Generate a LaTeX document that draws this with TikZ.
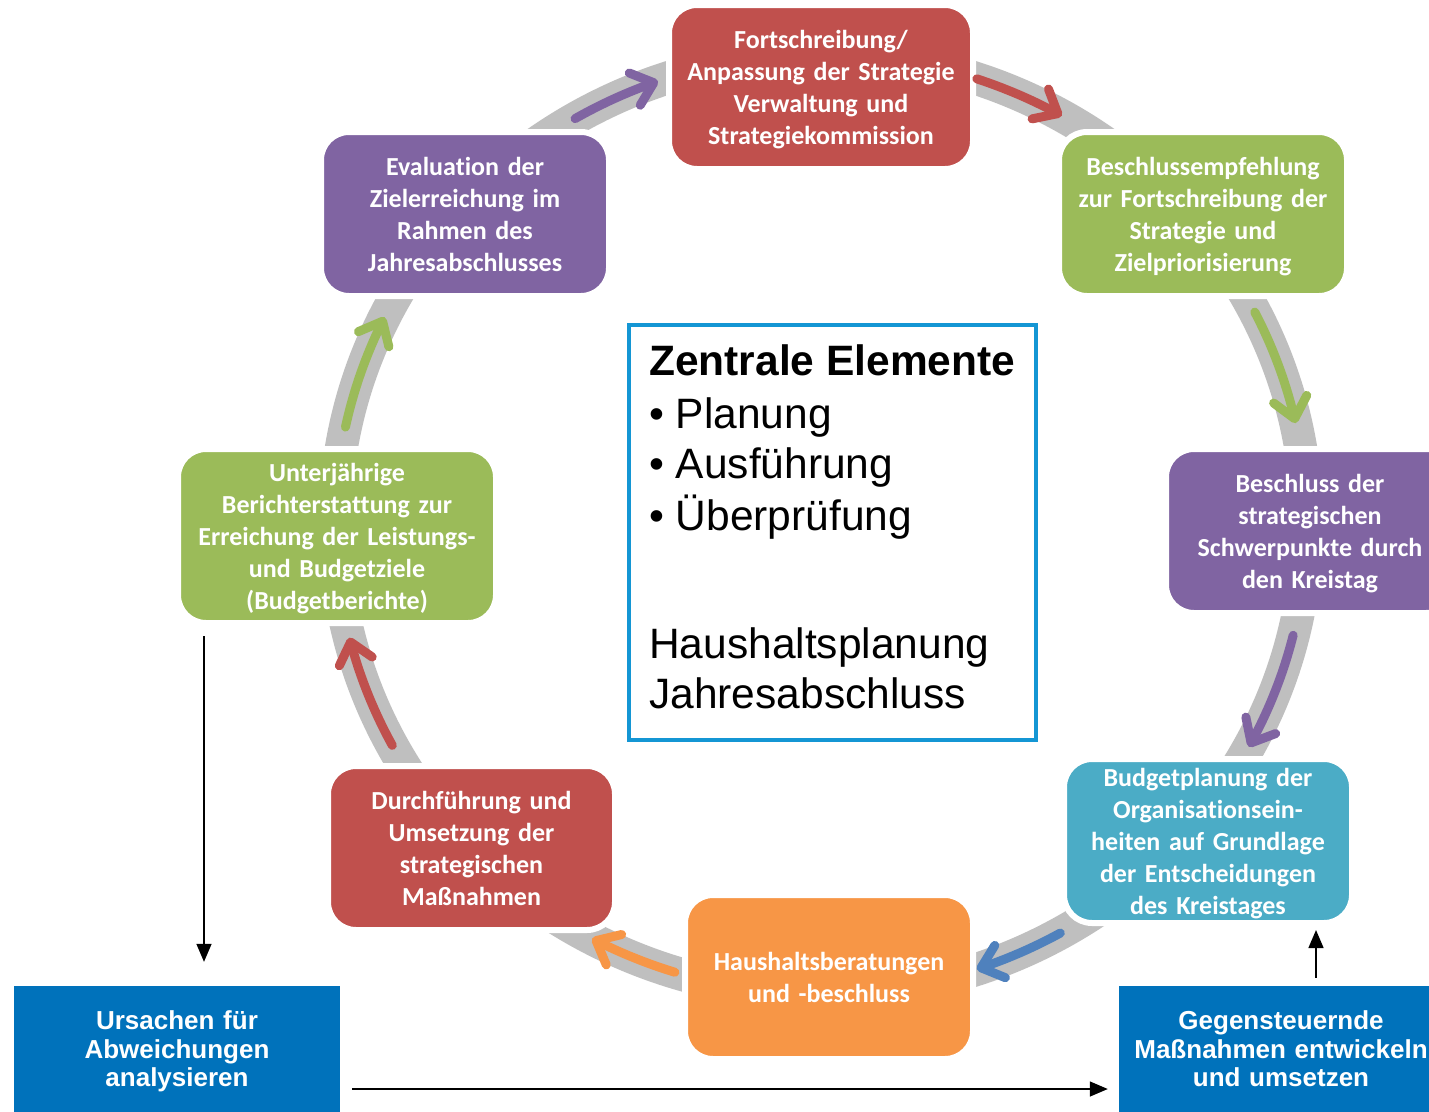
\documentclass[tikz,border=0pt]{standalone}
\usepackage{fontspec}
\newfontfamily\carlito[Ligatures=NoCommon]{Carlito}
\newfontfamily\arialfont{Liberation Sans}
\usetikzlibrary{arrows.meta}
\definecolor{cred}{HTML}{C0504D}
\definecolor{cgreen}{HTML}{9BBB59}
\definecolor{cpurple}{HTML}{8064A2}
\definecolor{cteal}{HTML}{4BACC6}
\definecolor{corange}{HTML}{F79646}
\definecolor{cblue}{HTML}{4F81BD}
\definecolor{cgray}{HTML}{BFBFBF}
\definecolor{cframe}{RGB}{20,150,212}
\definecolor{cbox}{RGB}{0,114,187}
\begin{document}
\begin{tikzpicture}[x=1pt,y=-1pt,
  cyc/.style={draw=white, line width=6pt, rounded corners=28pt, inner sep=0pt,
    align=center, text=white, minimum height=164pt,
    font=\carlito\bfseries\fontsize{26}{32}\selectfont,
    execute at begin node={\rule{0pt}{26pt}},
    execute at end node={\rule[-7pt]{0pt}{0pt}}},
  carrow/.style={line width=9pt, line cap=round,
    -{Straight Barb[length=20pt,width=34pt,round]}},
  blk/.style={draw=black, line width=1.5pt, -{Triangle[length=18pt,width=15pt]}},
  ctext/.style={inner sep=0pt, anchor=base west, font=\arialfont\fontsize{42.5}{50}\selectfont},
  bluebox/.style={fill=cbox, inner sep=0pt, align=center, text=white,
    minimum height=126pt, font=\arialfont\bfseries\fontsize{26}{28.5}\selectfont,
    execute at begin node={\rule{0pt}{25pt}},
    execute at end node={\rule[-7pt]{0pt}{0pt}}}
]
\useasboundingbox (0,0) rectangle (1429,1111);
\clip (0,0) rectangle (1429,1111);
\fill[white] (0,0) rectangle (1429,1111);

% grey ring
\draw[cgray, line width=33pt] (821,524) ellipse [x radius=486pt, y radius=470pt];

% cycle boxes
\node[cyc, fill=cred, minimum width=304pt, text width=298pt] (rt) at (821,87)
  {Fortschreibung/\\Anpassung der Strategie\\Verwaltung und\\Strategiekommission};
\node[cyc, fill=cgreen, minimum width=288pt, text width=282pt] (gtr) at (1203,214)
  {Beschlussempfehlung\\zur Fortschreibung der\\Strategie und\\Zielpriorisierung};
\node[cyc, fill=cpurple, minimum width=288pt, text width=282pt] (pr) at (1310,531)
  {Beschluss der\\strategischen\\Schwerpunkte durch\\den Kreistag};
\node[cyc, fill=cteal, minimum width=288pt, text width=282pt] (tl) at (1208,841)
  {Budgetplanung der\\Organisationsein-\\heiten auf Grundlage\\der Entscheidungen\\des Kreistages};
\node[cyc, fill=corange, minimum width=288pt, text width=282pt] (or) at (829,977)
  {Haushaltsberatungen\\und -beschluss};
\node[cyc, fill=cred, minimum width=287pt, text width=281pt] (rbl) at (471.5,848)
  {Durchführung und\\Umsetzung der\\strategischen\\Maßnahmen};
\node[cyc, fill=cgreen, minimum width=318pt, minimum height=174pt, text width=312pt] (gl) at (337,536)
  {Unterjährige\\Berichterstattung zur\\Erreichung der Leistungs-\\und Budgetziele\\(Budgetberichte)};
\node[cyc, fill=cpurple, minimum width=288pt, text width=282pt] (ptl) at (465,214)
  {Evaluation der\\Zielerreichung im\\Rahmen des\\Jahresabschlusses};

% coloured cycle arrows along the ring
\draw[carrow, cpurple] plot[domain=120.4:109.6, samples=30] ({821+486*cos(\x)}, {524-470*sin(\x)});
\draw[carrow, cred] plot[domain=71.3:60.3, samples=30] ({821+486*cos(\x)}, {524-470*sin(\x)});
\draw[carrow, cgreen] plot[domain=26.8:12.4, samples=30] ({821+486*cos(\x)}, {524-470*sin(\x)});
\draw[carrow, cpurple] plot[domain=-13.7:-28.3, samples=30] ({821+486*cos(\x)}, {524-470*sin(\x)});
\draw[carrow, cblue] plot[domain=-60.5:-71.3, samples=30] ({821+486*cos(\x)}, {524-470*sin(\x)});
\draw[carrow, corange] plot[domain=-107.5:-118.1, samples=30] ({821+486*cos(\x)}, {524-470*sin(\x)});
\draw[carrow, cred] plot[domain=-151.9:-166, samples=30] ({821+486*cos(\x)}, {524-470*sin(\x)});
\draw[carrow, cgreen] plot[domain=168.1:153.9, samples=30] ({821+486*cos(\x)}, {524-470*sin(\x)});

% central box
\node[draw=cframe, line width=4pt, fill=white, minimum width=407pt, minimum height=415pt, inner sep=0pt] (cb) at (832.5,532.5) {};
\node[ctext, font=\arialfont\bfseries\fontsize{42.5}{50}\selectfont] (t1) at (649,375) {Zentrale Elemente};
\node[ctext] (t2) at (649,428) {• Planung};
\node[ctext] (t3) at (649,478) {• Ausführung};
\node[ctext] (t4) at (649,530) {• Überprüfung};
\node[ctext] (t5) at (649,658) {Haushaltsplanung};
\node[ctext] (t6) at (649,708) {Jahresabschluss};

% bottom blue boxes
\node[bluebox, minimum width=326pt, text width=326pt] (ub) at (177,1049)
  {Ursachen für\\Abweichungen\\analysieren};
\node[bluebox, minimum width=324pt, text width=324pt] (gb) at (1281,1049)
  {Gegensteuernde\\Maßnahmen entwickeln\\und umsetzen};

% black connectors
\coordinate (c1) at (204,0);
\coordinate (c2) at (0,1089);
\coordinate (c3) at (1316,0);
\draw[blk, shorten <=10pt, shorten >=24pt] (gl.south -| c1) -- (ub.north -| c1);
\draw[blk, shorten <=12pt, shorten >=11pt] (ub.east |- c2) -- (gb.west |- c2);
\draw[blk, shorten <=8pt, shorten >=4pt] (gb.north -| c3) -- (tl.south -| c3);
\end{tikzpicture}
\end{document}
